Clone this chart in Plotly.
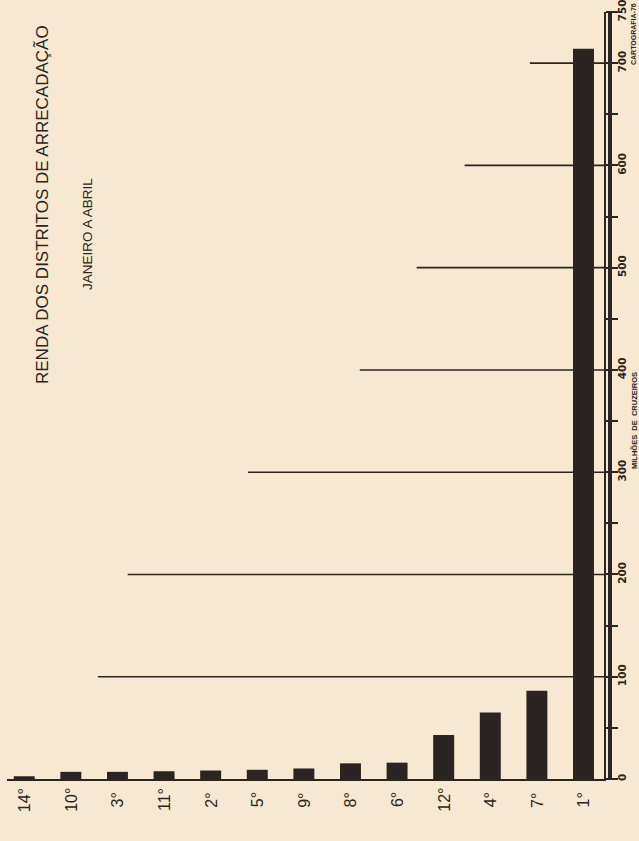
import plotly.graph_objects as go

# ---- data ----
districts = ["14°", "10°", "3°", "11°", "2°", "5°", "9°", "8°", "6°", "12°", "4°", "7°", "1°"]
revenue = [2.7, 7, 7, 7.6, 8.3, 9, 10.3, 15.3, 16, 43, 65, 86.3, 714]  # milhões de cruzeiros
guide_values = [100, 200, 300, 400, 500, 600, 700]
guide_from = [1.58, 2.22, 4.80, 7.20, 8.42, 9.45, 10.85]  # category position where each guide starts
value_ticks = [0, 50, 100, 150, 200, 250, 300, 350, 400, 450, 500, 550, 600, 650, 700, 750]
value_tick_text = ["0", "", "100", "", "200", "", "300", "", "400", "", "500", "", "600", "", "700", "750"]

W, H = 639, 841
ML, MR, MT, MB = 7, 35, 12, 62
XR = [-0.37, 12.44]
YR = [0, 750]
BG = "#f8e8d1"
INK = "#2a2522"

pw = W - ML - MR
ph = H - MT - MB


def px_x(x):
    # page pixel -> paper fraction
    return (x - ML) / pw


def px_y(y):
    return (H - MB - y) / ph


xs = list(range(len(districts)))

fig = go.Figure()
fig.add_trace(go.Bar(x=xs, y=revenue, width=0.45, marker=dict(color=INK, line=dict(width=0)),
                     showlegend=False, hoverinfo="skip"))

shapes = []
for v, s in zip(guide_values, guide_from):
    shapes.append(dict(type="line", xref="x", yref="y", x0=s, x1=XR[1], y0=v, y1=v,
                       line=dict(color=INK, width=1.6), layer="above"))
# thick rail of the value scale
shapes.append(dict(type="line", xref="paper", yref="y", x0=px_x(610), x1=px_x(610), y0=YR[0], y1=YR[1],
                   line=dict(color=INK, width=4), layer="above"))

annotations = []
for i, d in enumerate(districts):
    annotations.append(dict(x=i, xref="x", y=px_y(800), yref="paper", text=d, showarrow=False,
                            textangle=-90, font=dict(family="Liberation Sans, Arial, sans-serif", size=16, color=INK),
                            xanchor="center", yanchor="middle"))

annotations += [
    dict(x=px_x(42), y=px_y(205), xref="paper", yref="paper", text="RENDA DOS DISTRITOS DE ARRECADAÇÃO",
         showarrow=False, textangle=-90,
         font=dict(family="Liberation Sans, Arial, sans-serif", size=17, color=INK),
         xanchor="center", yanchor="middle"),
    dict(x=px_x(88), y=px_y(234), xref="paper", yref="paper", text="JANEIRO A ABRIL",
         showarrow=False, textangle=-90,
         font=dict(family="Liberation Sans, Arial, sans-serif", size=13.5, color=INK),
         xanchor="center", yanchor="middle"),
    dict(x=px_x(634), y=px_y(421), xref="paper", yref="paper", text="<b>MILHÕES  DE  CRUZEIROS</b>",
         showarrow=False, textangle=-90,
         font=dict(family="Liberation Sans, Arial, sans-serif", size=7.5, color=INK),
         xanchor="center", yanchor="middle"),
    dict(x=px_x(633), y=px_y(34), xref="paper", yref="paper", text="<b>CARTOGRAFIA-76</b>",
         showarrow=False, textangle=-90,
         font=dict(family="Liberation Sans, Arial, sans-serif", size=7, color=INK),
         xanchor="center", yanchor="middle"),
]

fig.update_layout(
    width=W, height=H,
    margin=dict(l=ML, r=MR, t=MT, b=MB, pad=0, autoexpand=False),
    paper_bgcolor=BG, plot_bgcolor=BG,
    bargap=0.55,
    shapes=shapes,
    annotations=annotations,
    xaxis=dict(range=XR, showgrid=False, zeroline=False, showline=True, linecolor=INK, linewidth=1.6,
               showticklabels=False, ticks="", fixedrange=True, automargin=False),
    yaxis=dict(range=YR, side="right", showgrid=False, zeroline=False, showline=True, linecolor=INK,
               linewidth=1.5, tickvals=value_ticks, ticktext=value_tick_text, ticks="outside", ticklen=12,
               tickwidth=1.5, tickcolor=INK, tickangle=-90, ticklabelstandoff=-4, automargin=False,
               ticklabeloverflow="allow",
               tickfont=dict(family="DejaVu Sans, Liberation Sans, sans-serif", size=10.5, color=INK, weight="bold"),
               fixedrange=True),
)

fig.write_html("out.html", config={"displayModeBar": False},
               post_script="document.body.style.margin='0';document.body.style.background='%s';" % BG)
